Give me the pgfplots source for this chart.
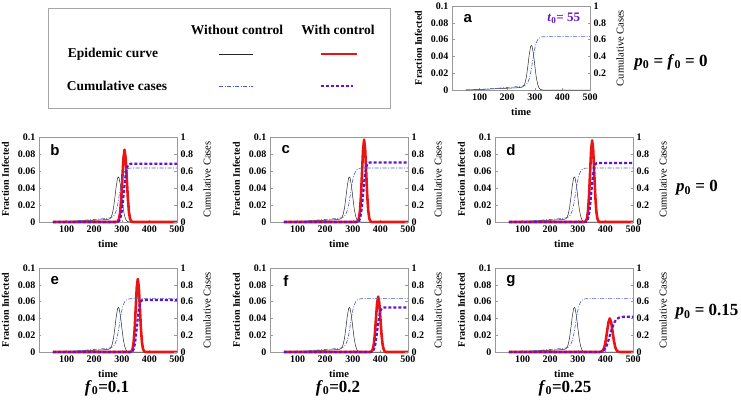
\documentclass[border=0pt]{standalone}
\usepackage{fontspec}
\setmainfont{Liberation Serif}
\newfontfamily\arialfont{Liberation Sans}
\usepackage{pgfplots}
\pgfplotsset{compat=1.18}
\usepackage{pgfplotstable}

\definecolor{cred}{RGB}{235,20,20}
\definecolor{cpurple}{RGB}{100,20,200}
\definecolor{cblue}{RGB}{70,90,210}

% Without control (same in every panel)
\pgfplotstableread{
t inf cum
50 0 0
75 0.0003 0.002
100 0.0006 0.006
125 0.001 0.011
150 0.0014 0.017
175 0.0018 0.024
200 0.0021 0.030
225 0.0025 0.037
240 0.0028 0.042
245 0.003 0.044
250 0.0031 0.046
255 0.0036 0.048
260 0.005 0.051
265 0.0088 0.057
270 0.0165 0.070
275 0.0288 0.093
280 0.0425 0.136
285 0.052 0.205
288 0.053 0.26
290 0.0521 0.300
295 0.0433 0.405
300 0.0292 0.496
305 0.0161 0.558
310 0.0072 0.595
315 0.0026 0.615
320 0.0008 0.626
325 0.0002 0.632
330 0 0.634
340 0 0.635
360 0 0.635
400 0 0.635
500 0 0.635
}\nocontrol

% Panel b
\pgfplotstableread{
t y
50 0
278 0
282 0.0002
286 0.0009
290 0.0037
294 0.0115
298 0.0276
302 0.0516
306 0.075
310 0.085
314 0.075
318 0.0516
322 0.0276
326 0.0115
330 0.0037
334 0.0009
338 0.0002
342 0
500 0
}\redb
\pgfplotstableread{
t y
50 0
275 0
279 0.0001
283 0.0009
287 0.0042
291 0.0156
295 0.0458
299 0.1087
303 0.2113
307 0.3425
311 0.4737
315 0.5763
319 0.6392
323 0.6694
327 0.6808
331 0.6841
335 0.685
500 0.685
}\purb

% Panel c
\pgfplotstableread{
t y
50 0
311 0
314.75 0.0002
318.5 0.0011
322.25 0.0043
326 0.0131
329.75 0.0315
333.5 0.0588
337.25 0.0856
341 0.097
344.75 0.0856
348.5 0.0588
352.25 0.0315
356 0.0131
359.75 0.0043
363.5 0.0011
367.25 0.0002
371 0
500 0
}\redc
\pgfplotstableread{
t y
50 0
308 0
311.75 0.0001
315.5 0.0009
319.25 0.0043
323 0.016
326.75 0.0468
330.5 0.1111
334.25 0.216
338 0.35
341.75 0.484
345.5 0.5889
349.25 0.6532
353 0.684
356.75 0.6957
360.5 0.6991
364.25 0.7
500 0.7
}\purc

% Panel d
\pgfplotstableread{
t y
50 0
322 0
325.75 0.0002
329.5 0.0011
333.25 0.0042
337 0.013
340.75 0.0312
344.5 0.0582
348.25 0.0847
352 0.096
355.75 0.0847
359.5 0.0582
363.25 0.0312
367 0.013
370.75 0.0042
374.5 0.0011
378.25 0.0002
382 0
500 0
}\redd
\pgfplotstableread{
t y
50 0
319 0
322.75 0.0001
326.5 0.0009
330.25 0.0043
334 0.0158
337.75 0.0464
341.5 0.1103
345.25 0.2144
349 0.3475
352.75 0.4806
356.5 0.5847
360.25 0.6486
364 0.6792
367.75 0.6907
371.5 0.6941
375.25 0.695
500 0.695
}\purd

% Panel e
\pgfplotstableread{
t y
50 0
328 0
331.75 0.0002
335.5 0.001
339.25 0.0038
343 0.0118
346.75 0.0282
350.5 0.0528
354.25 0.0768
358 0.087
361.75 0.0768
365.5 0.0528
369.25 0.0282
373 0.0118
376.75 0.0038
380.5 0.001
384.25 0.0002
388 0
500 0
}\rede
\pgfplotstableread{
t y
50 0
325 0
328.75 0.0001
332.5 0.0008
336.25 0.0038
340 0.0141
343.75 0.0414
347.5 0.0984
351.25 0.1913
355 0.31
358.75 0.4287
362.5 0.5216
366.25 0.5786
370 0.6059
373.75 0.6162
377.5 0.6192
381.25 0.62
500 0.62
}\pure

% Panel f
\pgfplotstableread{
t y
50 0
360 0
364 0.0001
368 0.0007
372 0.0029
376 0.0089
380 0.0214
384 0.04
388 0.0582
392 0.066
396 0.0582
400 0.04
404 0.0214
408 0.0089
412 0.0029
416 0.0007
420 0.0001
424 0
500 0
}\redf
\pgfplotstableread{
t y
50 0
357 0
361 0.0001
365 0.0007
369 0.0033
373 0.0121
377 0.0354
381 0.0841
385 0.1635
389 0.265
393 0.3665
397 0.4459
401 0.4946
405 0.5179
409 0.5267
413 0.5293
417 0.53
500 0.53
}\purf

% Panel g
\pgfplotstableread{
t y
50 0
376 0
381 0.0001
386 0.0004
391 0.0018
396 0.0054
401 0.013
406 0.0243
411 0.0353
416 0.04
421 0.0353
426 0.0243
431 0.013
436 0.0054
441 0.0018
446 0.0004
451 0.0001
456 0
500 0
}\redg
\pgfplotstableread{
t y
50 0
375 0
380 0.001
386 0.005
392 0.015
399 0.04
405 0.08
412 0.15
418 0.22
425 0.29
432 0.35
440 0.39
450 0.41
465 0.419
480 0.42
500 0.42
}\purg

\tikzset{
  panellabel/.style={font=\arialfont\bfseries\fontsize{15}{15}\selectfont},
  blackline/.style={black!85, line width=0.5pt},
  redline/.style={cred, line width=2.6pt, line join=round},
  blueline/.style={cblue, line width=0.6pt, dash pattern=on 4pt off 1.5pt on 1pt off 1.5pt},
  purline/.style={cpurple, line width=2.2pt, dash pattern=on 3pt off 2pt},
}
\pgfplotsset{
  common/.style={scale only axis, width=138pt, xmin=0, xmax=500, clip=false,
    anchor=south west, /pgf/number format/assume math mode=true,
    axis line style={gray!80}, every tick/.style={gray!80},
    tick align=inside, major tick length=2.5pt,
    ticklabel style={font=\bfseries\fontsize{10}{11}\selectfont, text=black}},
  leftax/.style={common, ymin=0, ymax=0.1,
    xtick={100,200,300,400,500}, xticklabels={100,200,300,400,500},
    ytick={0,0.02,0.04,0.06,0.08,0.1}, yticklabels={0,0.02,0.04,0.06,0.08,0.1},
    xtick pos=bottom, ytick pos=left,
    xlabel={time}, ylabel={Fraction Infected},
    xlabel style={font=\bfseries\fontsize{10.5}{11}\selectfont, at={(axis description cs:0.5,-0.26)}, anchor=center},
    ylabel style={font=\bfseries\fontsize{10}{11}\selectfont, at={(axis description cs:-0.243,0.5)}, anchor=center, rotate=0}},
  rightax/.style={common, ymin=0, ymax=1, axis x line=none, axis y line*=right,
    ytick={0,0.2,0.4,0.6,0.8,1}, yticklabels={0,0.2,0.4,0.6,0.8,1},
    ylabel={Cumulative Cases},
    ylabel style={font=\fontsize{10.5}{11}\selectfont, at={(axis description cs:1.217,0.5)}, anchor=center}},
}

\newcommand{\panel}[6]{%
\begin{axis}[leftax, at={(#1pt,-#2pt)}, height=#3pt]
\addplot[blackline] table[x=t,y=inf]{\nocontrol};
\addplot[redline] table[x=t,y=y]{#5};
\node[panellabel] at (rel axis cs:0.115,0.85) {#4};
\end{axis}
\begin{axis}[rightax, at={(#1pt,-#2pt)}, height=#3pt]
\addplot[blueline] table[x=t,y=cum]{\nocontrol};
\addplot[purline] table[x=t,y=y]{#6};
\end{axis}}

\begin{document}
\begin{tikzpicture}
\useasboundingbox (0,0) rectangle (741pt,-405pt);

% legend box
\draw[gray!70, line width=0.6pt] (48pt,-8pt) rectangle (390pt,-108pt);
\begin{scope}[font=\bfseries\fontsize{13.5}{14}\selectfont]
\node at (237pt,-30pt) {Without control};
\node at (338pt,-30pt) {With control};
\node at (113pt,-54pt) {Epidemic curve};
\node at (117pt,-86pt) {Cumulative cases};
\end{scope}
\draw[blackline] (219pt,-54pt) -- (253pt,-54pt);
\draw[cred, line width=2.4pt] (321pt,-54pt) -- (357pt,-54pt);
\draw[blueline] (219pt,-86pt) -- (253pt,-86pt);
\draw[purline] (321pt,-86pt) -- (353pt,-86pt);

% panel a
\begin{axis}[leftax, at={(452pt,-90pt)}, height=84pt]
\addplot[blackline] table[x=t,y=inf]{\nocontrol};
\node[panellabel] at (rel axis cs:0.115,0.85) {a};
\node[font=\bfseries\fontsize{13}{13}\selectfont, text=cpurple] at (rel axis cs:0.81,0.85) {\textit{t}\textsubscript{0}= 55};
\end{axis}
\begin{axis}[rightax, at={(452pt,-90pt)}, height=84pt, ytick={0.2,0.4,0.6,0.8,1}, yticklabels={0.2,0.4,0.6,0.8,1}]
\addplot[blueline] table[x=t,y=cum]{\nocontrol};
\end{axis}

\panel{39}{222}{85}{b}{\redb}{\purb}
\panel{270}{222}{85}{c}{\redc}{\purc}
\panel{495}{222}{85}{d}{\redd}{\purd}
\panel{39}{352}{84}{e}{\rede}{\pure}
\panel{270}{352}{84}{f}{\redf}{\purf}
\panel{495}{352}{84}{g}{\redg}{\purg}

% row / column annotations
\begin{scope}[font=\bfseries\fontsize{17}{18}\selectfont]
\node at (671pt,-62pt) {\textit{p}\textsubscript{0} = \textit{f}\textsubscript{0} = 0};
\node at (697pt,-188pt) {\textit{p}\textsubscript{0} = 0};
\node at (707pt,-312pt) {\textit{p}\textsubscript{0} = 0.15};
\node at (107pt,-388pt) {\textit{f}\textsubscript{0}=0.1};
\node at (338pt,-388pt) {\textit{f}\textsubscript{0}=0.2};
\node at (565pt,-388pt) {\textit{f}\textsubscript{0}=0.25};
\end{scope}
\end{tikzpicture}
\end{document}
